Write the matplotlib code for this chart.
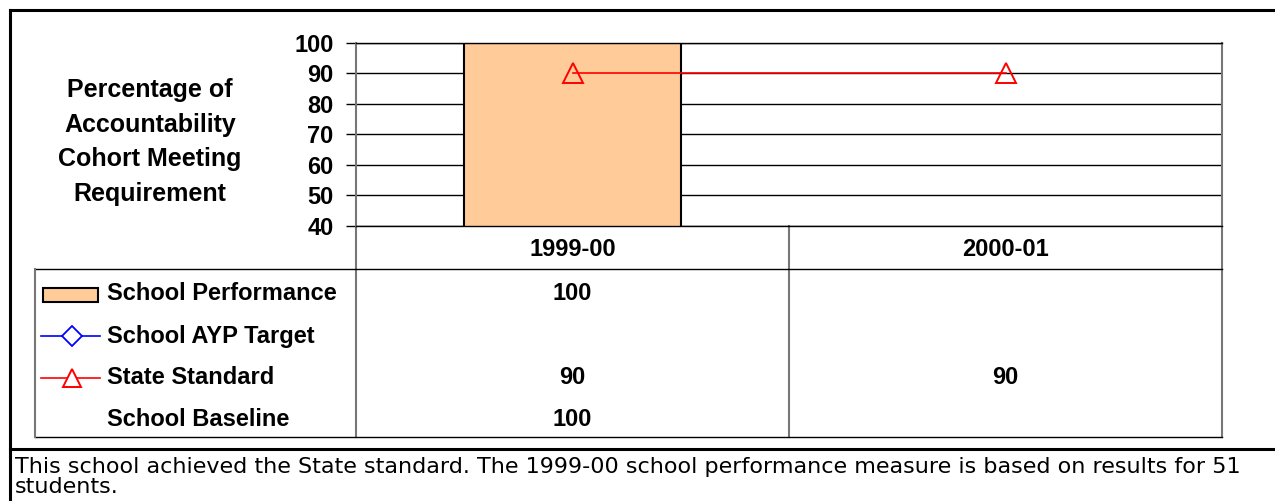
import matplotlib
matplotlib.use("Agg")
import matplotlib.pyplot as plt
import matplotlib.transforms as mtrans
from matplotlib.patches import Rectangle
from matplotlib.lines import Line2D
import numpy as np

# ---------------- data ----------------
categories = ["1999-00", "2000-01"]
school_performance = [100, np.nan]
school_ayp_target = [np.nan, np.nan]
state_standard = [90, 90]
school_baseline = [100, np.nan]
series_names = ["School Performance", "School AYP Target", "State Standard", "School Baseline"]
y_ticks = [40, 50, 60, 70, 80, 90, 100]
y_title = "Percentage of\nAccountability\nCohort Meeting\nRequirement"
note = ("This school achieved the State standard. The 1999-00 school performance measure is based on results for 51\n"
        "students.")

plt.rcParams['font.family'] = ['Liberation Sans', 'DejaVu Sans']
FS = 17

W, H = 1275, 501
fig = plt.figure(figsize=(W / 100, H / 100), dpi=100)

# background axes in pixel coordinates (y downward)
bg = fig.add_axes([0, 0, 1, 1], zorder=0)
bg.set_xlim(0, W)
bg.set_ylim(H, 0)
bg.axis('off')

L, R, T, B = 356, 1222, 43, 226
ax = fig.add_axes([L / W, 1 - B / H, (R - L) / W, (B - T) / H], zorder=2)
ax.patch.set_alpha(0)

x = np.arange(len(categories))
bar_color = '#FFCC99'
ax.bar(x, school_performance, width=0.5, color=bar_color, edgecolor='black', linewidth=1.5, zorder=2)
ax.plot(x, school_ayp_target, color='blue', marker='D', markersize=10, markerfacecolor='none',
        markeredgecolor='blue', markeredgewidth=1.3, linewidth=1.2, zorder=3)
ax.plot(x, state_standard, color='red', marker='^', markersize=14.5, markerfacecolor='none',
        markeredgecolor='red', markeredgewidth=1.4, linewidth=1.2, zorder=3, clip_on=False)

ax.set_xlim(-0.5, len(categories) - 0.5)
ax.set_ylim(min(y_ticks), max(y_ticks))
ax.set_yticks(y_ticks)
ax.set_yticklabels([str(v) for v in y_ticks], fontweight='bold', fontsize=FS)
ax.yaxis.grid(True, color='black', linewidth=1)
ax.set_axisbelow(True)
ax.tick_params(axis='y', length=7.2, width=1, pad=9, colors='black')
ax.set_xticks(x)
ax.set_xticklabels(categories, fontweight='bold', fontsize=FS)
ax.tick_params(axis='x', length=0, pad=9)
for s in ['top', 'bottom']:
    ax.spines[s].set_color('black')
    ax.spines[s].set_linewidth(1)
for s in ['left', 'right']:
    ax.spines[s].set_color('#777777')
    ax.spines[s].set_linewidth(1.5)

# blended transform: x in data coords of ax, y in pixel coords
blend = mtrans.blended_transform_factory(ax.transData, bg.transData)

# ---------------- data table ----------------
row_top, cat_bottom, table_bottom, table_left = B, 269, 437, 35
row_y = [294, 336, 378, 419]
grey = '#777777'
for xb in np.arange(-0.5, len(categories), 1.0):
    bg.add_line(Line2D([xb, xb], [row_top, table_bottom], transform=blend, color=grey, lw=1.5))
bg.plot([table_left, R], [cat_bottom, cat_bottom], color='black', lw=1)
bg.plot([table_left, R], [table_bottom, table_bottom], color='black', lw=1)
bg.plot([table_left, table_left], [cat_bottom, table_bottom], color=grey, lw=1.5)

# legend keys
bg.add_patch(Rectangle((43, 288), 55, 14, facecolor=bar_color, edgecolor='black', lw=1.5))
bg.plot([41, 100], [row_y[1], row_y[1]], color='blue', lw=1.2)
bg.plot([72], [row_y[1]], marker='D', markersize=10, markerfacecolor='white',
        markeredgecolor='blue', markeredgewidth=1.3)
bg.plot([41, 100], [row_y[2], row_y[2]], color='red', lw=1.2)
bg.plot([72], [row_y[2]], marker='^', markersize=13, markerfacecolor='white',
        markeredgecolor='red', markeredgewidth=1.4)

for name, yy in zip(series_names, row_y):
    bg.text(107, yy, name, fontweight='bold', fontsize=FS, ha='left', va='center')

series_values = [school_performance, school_ayp_target, state_standard, school_baseline]
for vals, yy in zip(series_values, row_y):
    for xi, v in zip(x, vals):
        if not np.isnan(v):
            bg.text(xi, yy, f"{int(v)}", transform=blend, fontweight='bold', fontsize=FS,
                    ha='center', va='center')

# y title
bg.text(150, 142, y_title, fontweight='bold', fontsize=18, ha='center', va='center', linespacing=1.55)

# outer frame
bg.plot([10, W], [10, 10], color='black', lw=2.2)
bg.plot([10, 10], [10, H], color='black', lw=2.2)
bg.plot([10, W], [449, 449], color='black', lw=2.2)

bg.text(15, 457, note, fontsize=16, family='DejaVu Sans', ha='left', va='top', linespacing=1.02)

fig.savefig('out.png', dpi=100)
